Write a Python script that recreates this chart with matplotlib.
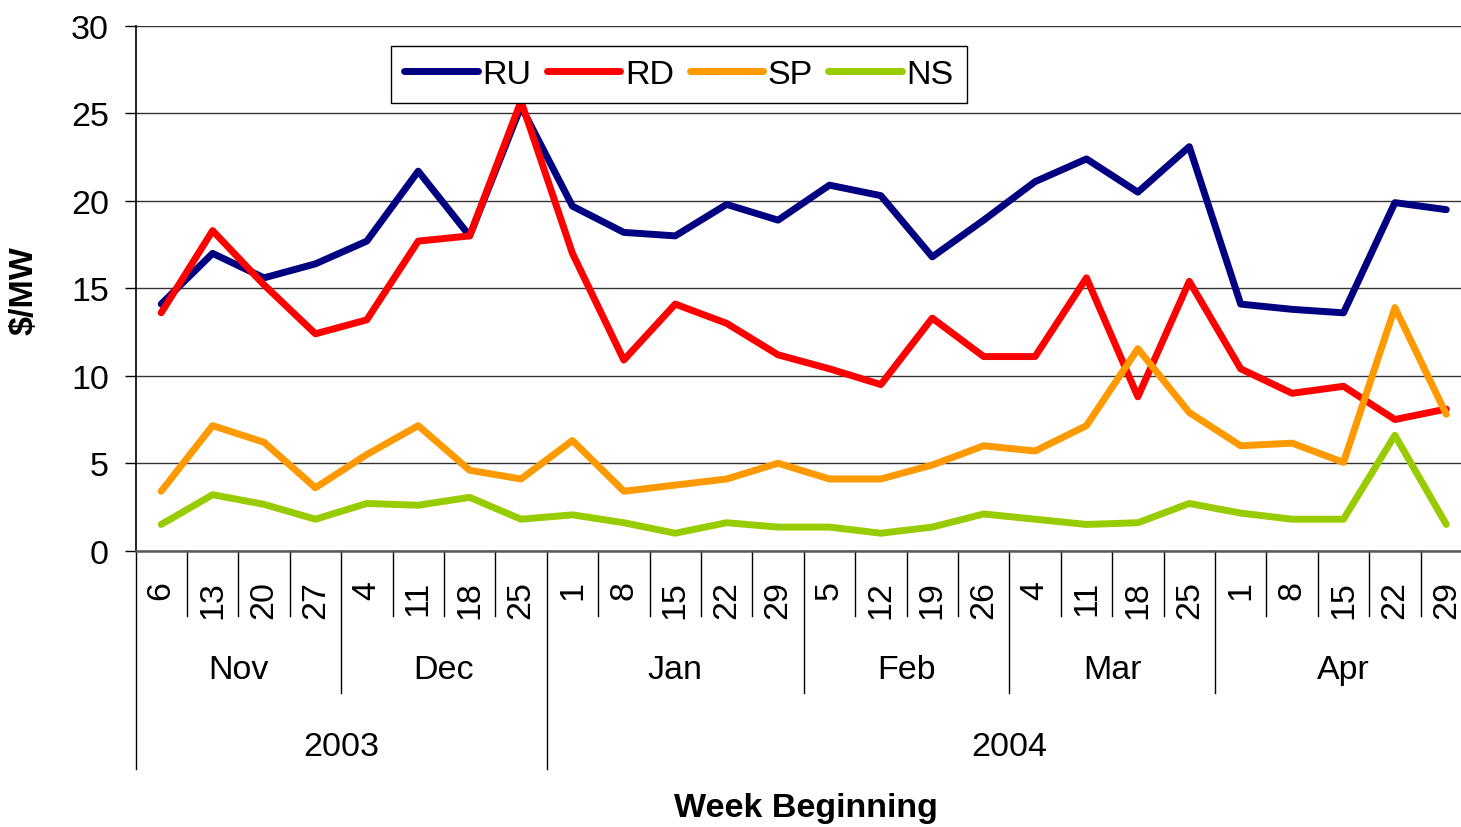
import matplotlib
matplotlib.use("Agg")
import matplotlib.pyplot as plt
from matplotlib.transforms import blended_transform_factory

plt.rcParams['font.family'] = ['Liberation Sans', 'DejaVu Sans']

# week-beginning categories
weeks = [6, 13, 20, 27, 4, 11, 18, 25, 1, 8, 15, 22, 29, 5, 12, 19, 26, 4, 11, 18, 25, 1, 8, 15, 22, 29]
months = ['Nov'] * 4 + ['Dec'] * 4 + ['Jan'] * 5 + ['Feb'] * 4 + ['Mar'] * 4 + ['Apr'] * 5
years = ['2003'] * 8 + ['2004'] * 18

# $/MW per series
RU = [14.1, 17.0, 15.6, 16.4, 17.7, 21.7, 18.0, 25.4, 19.7, 18.2, 18.0, 19.8, 18.9,
      20.9, 20.3, 16.8, 18.9, 21.1, 22.4, 20.5, 23.1, 14.1, 13.8, 13.6, 19.9, 19.5]
RD = [13.6, 18.3, 15.2, 12.4, 13.2, 17.7, 18.0, 25.7, 17.0, 10.9, 14.1, 13.0, 11.2,
      10.4, 9.5, 13.3, 11.1, 11.1, 15.6, 8.8, 15.4, 10.4, 9.0, 9.4, 7.5, 8.1]
SP = [3.4, 7.15, 6.2, 3.6, 5.5, 7.15, 4.6, 4.1, 6.3, 3.4, 3.75, 4.1, 5.0,
      4.1, 4.1, 4.9, 6.0, 5.7, 7.15, 11.55, 7.9, 6.0, 6.15, 5.05, 13.9, 7.8]
NS = [1.5, 3.2, 2.65, 1.8, 2.7, 2.6, 3.05, 1.8, 2.05, 1.6, 1.0, 1.6, 1.35,
      1.35, 1.0, 1.35, 2.1, 1.8, 1.5, 1.6, 2.7, 2.15, 1.8, 1.8, 6.6, 1.5]

series = [('RU', RU, '#000080'), ('RD', RD, '#FF0000'),
          ('SP', SP, '#FF9900'), ('NS', NS, '#99CC00')]

FS = 24.5
W, H = 1461, 828
fig = plt.figure(figsize=(W / 100, H / 100), dpi=100)
# plot area runs slightly past the right edge, as in the original
ax = fig.add_axes([135.5 / W, 1 - 551.7 / H, (1472 - 135.5) / W, (551.7 - 27) / H])

x = list(range(len(weeks)))
for name, vals, col in series:
    ax.plot(x, vals, color=col, lw=5, label=name,
            solid_joinstyle='round', solid_capstyle='round')

ax.set_xlim(-0.5, len(weeks) - 0.5)
ax.set_ylim(0, 30)
ax.set_yticks([0, 5, 10, 15, 20, 25, 30])
ax.yaxis.grid(True, color='0.2', lw=1.0)
ax.set_axisbelow(True)
ax.tick_params(axis='y', direction='out', length=8, width=1, pad=11, labelsize=FS)
ax.set_xticks([])
for s in ['top', 'right']:
    ax.spines[s].set_visible(False)
ax.spines['left'].set_linewidth(1.2)
ax.spines['bottom'].set_linewidth(1.8)
ax.spines['bottom'].set_color('0.35')

leg = ax.legend(loc='upper left', bbox_to_anchor=(0.1915, 0.9613), borderaxespad=0,
                ncol=4, fontsize=FS, handlelength=2.15, handletextpad=0.15,
                columnspacing=0.45, borderpad=0.38, fancybox=False, framealpha=1)
leg.get_frame().set_edgecolor('black')
leg.get_frame().set_linewidth(1.0)

# multi-level category axis
tr = blended_transform_factory(ax.transData, fig.transFigure)
fy = lambda py: 1 - py / H
y0 = 551.7

for i, d in enumerate(weeks):
    ax.text(i, fy(581), str(d), transform=tr, rotation=90, ha='center', va='top',
            fontsize=FS, clip_on=False)

n = len(weeks)
for b in range(n):
    bx = b - 0.5
    if b == 0 or years[b] != years[b - 1]:
        bottom = 770
    elif months[b] != months[b - 1]:
        bottom = 694
    else:
        bottom = 617
    ax.plot([bx, bx], [fy(y0), fy(bottom)], transform=tr, color='black', lw=1.0,
            clip_on=False)


def groups(labels):
    out = []
    start = 0
    for i in range(1, n + 1):
        if i == n or labels[i] != labels[start]:
            out.append((labels[start], start, i - 1))
            start = i
    return out


for lab, a, b in groups(months):
    ax.text((a + b) / 2, fy(679), lab, transform=tr, ha='center', va='baseline',
            fontsize=FS, clip_on=False)
for lab, a, b in groups(years):
    ax.text((a + b) / 2, fy(756), lab, transform=tr, ha='center', va='baseline',
            fontsize=FS, clip_on=False)

fig.text(805.5 / W, fy(817), 'Week Beginning', ha='center', va='baseline',
         fontsize=FS, fontweight='bold')
fig.text(24 / W, fy(291), '$/MW', rotation=90, ha='center', va='center',
         fontsize=FS, fontweight='bold')

fig.savefig('out.png', dpi=100)
